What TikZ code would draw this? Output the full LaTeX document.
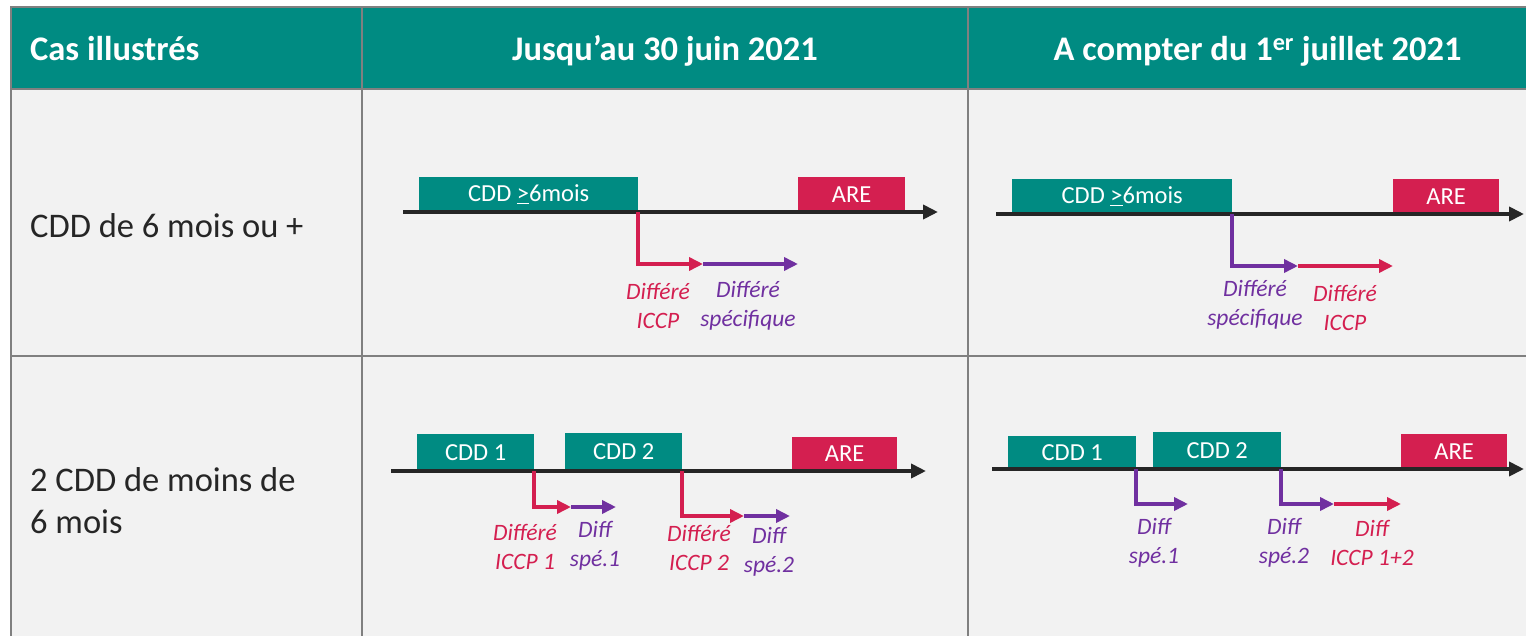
\documentclass[tikz,border=0pt]{standalone}
\usepackage{fontspec}
\setmainfont{Carlito}
\usetikzlibrary{arrows.meta}

\definecolor{cddteal}{RGB}{0,139,130}
\definecolor{arered}{RGB}{212,31,80}
\definecolor{diffpurple}{RGB}{112,48,160}
\definecolor{cellgray}{RGB}{242,242,242}
\definecolor{gridgray}{RGB}{128,128,128}
\definecolor{axisblack}{RGB}{38,38,38}

\tikzset{
  cdd/.style={fill=cddteal, text=white, inner sep=0pt, anchor=south west,
    font=\fontsize{24.5}{29}\selectfont},
  are/.style={cdd, fill=arered},
  timeline/.style={line width=4.5pt, axisblack, -{Triangle[length=15pt,width=14pt]}},
  iccp/.style={line width=4pt, arered, -{Triangle[length=14pt,width=13pt]}},
  spe/.style={iccp, diffpurple},
  lbl/.style={align=center, inner sep=0pt, font=\fontsize{23.5}{29}\selectfont\itshape},
  head/.style={text=white, inner sep=0pt, font=\fontsize{34.5}{42}\selectfont\bfseries},
  case/.style={inner sep=0pt, align=left, anchor=base west, text=axisblack,
    font=\fontsize{34.5}{41.5}\selectfont},
}

\begin{document}
\begin{tikzpicture}[x=1pt, y=-1pt]
  \useasboundingbox (0,0) rectangle (1526,635);
  \clip (0,0) rectangle (1526,635);
  \fill[white] (0,0) rectangle (1526,635);

  % table
  \fill[cddteal] (11,7) rectangle (1560,89);
  \fill[cellgray] (11,89) rectangle (1560,640);
  \draw[gridgray, line width=2pt] (11,640) -- (11,7) -- (1560,7);
  \draw[gridgray, line width=2pt] (11,89) -- (1560,89);
  \draw[gridgray, line width=2pt] (11,356) -- (1560,356);
  \draw[gridgray, line width=2pt] (362,7) -- (362,640);
  \draw[gridgray, line width=2pt] (968,7) -- (968,640);

  \node[head, anchor=base west] (hcas) at (30,60) {Cas illustrés};
  \node[head, anchor=base] (hold) at (665,60) {Jusqu’au 30 juin 2021};
  \node[head, anchor=base] (hnew) at (1257.5,60) {A compter du 1\textsuperscript{er} juillet 2021};

  \node[case] (rone) at (30,237) {CDD de 6 mois ou +};
  \node[case] (rtwo) at (30,533) {2 CDD de moins de\\6 mois};

  % CDD >= 6 mois, old rule
  \coordinate (a0) at (403,212);
  \coordinate (a9) at (938,212);
  \node[cdd, minimum width=219pt, minimum height=35pt] (acdd) at (419,212) {CDD \underline{>}6mois};
  \node[are, minimum width=107pt, minimum height=35pt] (aare) at (798,212) {ARE};
  \draw[timeline] (a0) -- (a9);
  \coordinate (ai) at (703,264);
  \draw[iccp] (acdd.south east) |- (ai);
  \draw[spe] (ai) -- (ai -| aare.south west);
  \node[lbl, text=arered] (ail) at (658,306) {Différé\\ICCP};
  \node[lbl, text=diffpurple] (asl) at (748,306) {Différé\\spécifique};

  % CDD >= 6 mois, new rule
  \coordinate (b0) at (996,214);
  \coordinate (b9) at (1524,214);
  \node[cdd, minimum width=220pt, minimum height=35pt] (bcdd) at (1012,214) {CDD \underline{>}6mois};
  \node[are, minimum width=106pt, minimum height=35pt] (bare) at (1393,214) {ARE};
  \draw[timeline] (b0) -- (b9);
  \coordinate (bs) at (1298,266);
  \draw[spe] (bcdd.south east) |- (bs);
  \draw[iccp] (bs) -- (bs -| bare.south west);
  \node[lbl, text=diffpurple] (bsl) at (1255,305) {Différé\\spécifique};
  \node[lbl, text=arered] (bil) at (1345,308) {Différé\\ICCP};

  % two short CDD, old rule
  \coordinate (c0) at (391,471);
  \coordinate (c9) at (926,471);
  \node[cdd, minimum width=117pt, minimum height=37pt] (ccdda) at (417,471) {CDD 1};
  \node[cdd, minimum width=117pt, minimum height=38pt] (ccddb) at (565,471) {CDD 2};
  \node[are, minimum width=105pt, minimum height=34pt] (care) at (792,471) {ARE};
  \draw[timeline] (c0) -- (c9);
  \coordinate (cia) at (571,507);
  \coordinate (csa) at (616,507);
  \draw[iccp] (ccdda.south east) |- (cia);
  \draw[spe] (cia) -- (csa);
  \coordinate (cib) at (744,516);
  \coordinate (csb) at (790,516);
  \draw[iccp] (ccddb.south east) |- (cib);
  \draw[spe] (cib) -- (csb);
  \node[lbl, text=arered] (cila) at (525,547) {Différé\\ICCP 1};
  \node[lbl, text=diffpurple] (csla) at (595,546) {Diff\\spé.1};
  \node[lbl, text=arered] (cilb) at (699,548) {Différé\\ICCP 2};
  \node[lbl, text=diffpurple] (cslb) at (769,552) {Diff\\spé.2};

  % two short CDD, new rule
  \coordinate (d0) at (992,469);
  \coordinate (d9) at (1524,469);
  \node[cdd, minimum width=128pt, minimum height=33pt] (dcdda) at (1008,469) {CDD 1};
  \node[cdd, minimum width=128pt, minimum height=37pt] (dcddb) at (1153,469) {CDD 2};
  \node[are, minimum width=106pt, minimum height=35pt] (dare) at (1401,469) {ARE};
  \draw[timeline] (d0) -- (d9);
  \coordinate (dsa) at (1188,504);
  \draw[spe] (dcdda.south east) |- (dsa);
  \coordinate (dsb) at (1334,504);
  \draw[spe] (dcddb.south east) |- (dsb);
  \draw[iccp] (dsb) -- (dsb -| dare.south west);
  \node[lbl, text=diffpurple] (dsla) at (1154,543) {Diff\\spé.1};
  \node[lbl, text=diffpurple] (dslb) at (1284,543) {Diff\\spé.2};
  \node[lbl, text=arered] (dil) at (1372,543) {Diff\\ICCP 1+2};
\end{tikzpicture}
\end{document}
